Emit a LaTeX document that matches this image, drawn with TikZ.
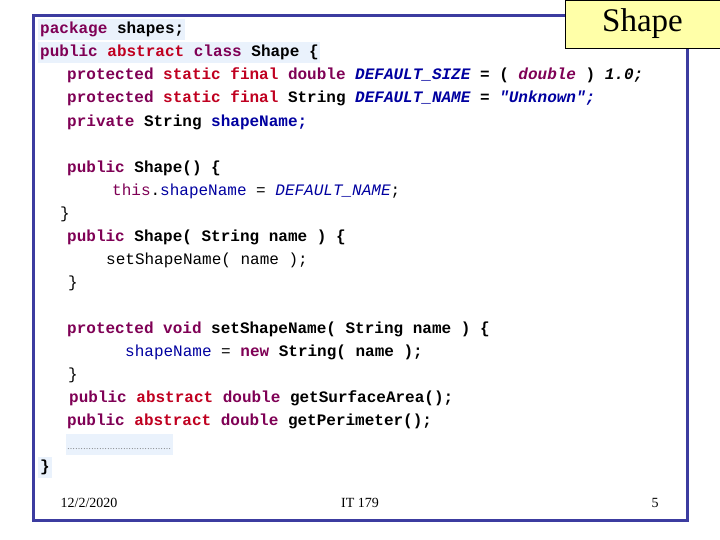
\documentclass[tikz,border=0pt]{standalone}
\usepackage{fontspec}
\setmainfont{Liberation Serif}
\newfontfamily\code{Liberation Mono}
\definecolor{kwc}{HTML}{7F0055}
\definecolor{rdc}{HTML}{C00020}
\definecolor{fdc}{HTML}{0000A0}
\definecolor{frc}{HTML}{3C3CA0}
\definecolor{hlc}{HTML}{EAF2FC}
\definecolor{ylc}{HTML}{FFFFA8}
\newcommand{\kwx}[1]{\textcolor{kwc}{\bfseries #1}}
\newcommand{\rdx}[1]{\textcolor{rdc}{\bfseries #1}}
\newcommand{\fdx}[1]{\textcolor{fdc}{\bfseries\itshape #1}}
\newcommand{\fbx}[1]{\textcolor{fdc}{\bfseries #1}}
\newcommand{\idx}[1]{{\bfseries #1}}
\begin{document}
\begin{tikzpicture}[x=1pt,y=-1pt,
  codeline/.style={anchor=west,inner sep=0pt,font=\code\fontsize{16}{16}\selectfont},
  foot/.style={anchor=center,inner sep=0pt,font=\fontsize{14}{14}\selectfont}]
\useasboundingbox (0,0) rectangle (720,540);
\fill[white] (0,0) rectangle (720,540);
\fill[hlc] (38,19) rectangle (185,40);
\fill[hlc] (38,42) rectangle (320,63);
\fill[hlc] (66,434) rectangle (173,455);
\fill[hlc] (38,457) rectangle (52,478);
\draw[frc,line width=3pt] (33,16) rectangle (687,520);
\node[draw=black,line width=0.6pt,fill=ylc,minimum width=155pt,minimum height=48pt,inner sep=0pt,font=\fontsize{33}{33}\selectfont] (title) at (642.5,24) {Shape};
\node[codeline] (l1) at (40,29) {\kwx{package} \idx{shapes;}};
\node[codeline] (l2) at (40,52) {\kwx{public} \rdx{abstract} \kwx{class} \idx{Shape \{}};
\node[codeline] (l3) at (67,75) {\kwx{protected} \rdx{static} \rdx{final} \kwx{double} \fdx{DEFAULT\_SIZE} \idx{=} \idx{(} \textcolor{kwc}{\bfseries\itshape double} \idx{)} \idx{\itshape 1.0;}};
\node[codeline] (l4) at (67,98) {\kwx{protected} \rdx{static} \rdx{final} \idx{String} \fdx{DEFAULT\_NAME} \idx{=} \fdx{"Unknown";}};
\node[codeline] (l5) at (67,122) {\kwx{private} \idx{String} \fbx{shapeName;}};
\node[codeline] (l6) at (67,168) {\kwx{public} \idx{Shape() \{}};
\node[codeline] (l7) at (112,191) {\textcolor{kwc}{this}.\textcolor{fdc}{shapeName} = \textcolor{fdc}{\itshape DEFAULT\_NAME};};
\node[codeline] (l8) at (60,214) {\}};
\node[codeline] (l9) at (67,237) {\kwx{public} \idx{Shape( String name ) \{}};
\node[codeline] (l10) at (106,260) {setShapeName( name );};
\node[codeline] (l11) at (68,283) {\}};
\node[codeline] (l12) at (67,329) {\kwx{protected} \kwx{void} \idx{setShapeName( String name ) \{}};
\node[codeline] (l13) at (125,352) {\textcolor{fdc}{shapeName} = \kwx{new} \idx{String( name );}};
\node[codeline] (l14) at (68,375) {\}};
\node[codeline] (l15) at (69,398) {\kwx{public} \rdx{abstract} \kwx{double} \idx{getSurfaceArea();}};
\node[codeline] (l16) at (67,421) {\kwx{public} \rdx{abstract} \kwx{double} \idx{getPerimeter();}};
\node[anchor=west,inner sep=0pt,font=\fontsize{8}{8}\selectfont] (dots) at (67,449) {\textcolor{black!70}{\ldots\ldots\ldots\ldots\ldots\ldots\ldots\ldots\ldots\ldots\ldots\ldots\ldots}};
\node[codeline] (l17) at (40,467) {\idx{\}}};
\node[foot] (date) at (89,503) {12/2/2020};
\node[foot] (course) at (360,503) {IT 179};
\node[foot] (page) at (655,503) {5};
\end{tikzpicture}
\end{document}
